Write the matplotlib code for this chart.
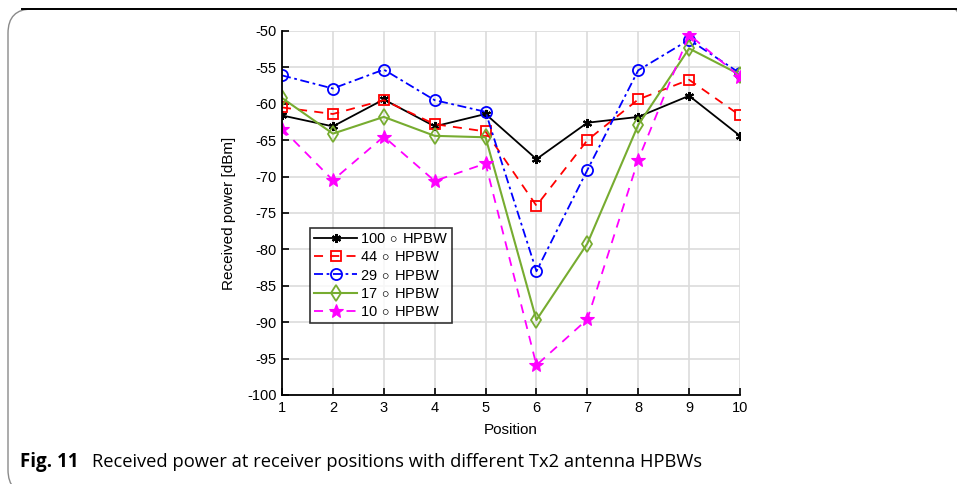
import matplotlib
matplotlib.use("Agg")
import matplotlib.pyplot as plt
from matplotlib.patches import FancyBboxPatch
from matplotlib.lines import Line2D

positions = [1, 2, 3, 4, 5, 6, 7, 8, 9, 10]
hpbw_100 = [-61.6, -63.1, -59.4, -63.1, -61.4, -67.6, -62.6, -61.8, -58.9, -64.4]
hpbw_44 = [-60.5, -61.4, -59.5, -62.8, -63.8, -74.0, -65.0, -59.4, -56.7, -61.6]
hpbw_29 = [-56.1, -57.9, -55.3, -59.5, -61.1, -83.0, -69.1, -55.4, -51.2, -55.8]
hpbw_17 = [-59.2, -64.1, -61.8, -64.4, -64.6, -89.7, -79.2, -62.9, -52.4, -56.0]
hpbw_10 = [-63.4, -70.5, -64.5, -70.6, -68.2, -95.9, -89.6, -67.7, -50.5, -56.3]
labels = ["100$\\,\\circ\\,$HPBW", "44$\\,\\circ\\,$HPBW", "29$\\,\\circ\\,$HPBW",
          "17$\\,\\circ\\,$HPBW", "10$\\,\\circ\\,$HPBW"]
yticks = list(range(-100, -45, 5))

plt.rcParams['font.family'] = ['Liberation Sans', 'DejaVu Sans']
plt.rcParams['mathtext.fontset'] = 'custom'
plt.rcParams['mathtext.rm'] = 'Liberation Sans'
plt.rcParams['axes.unicode_minus'] = False

fig = plt.figure(figsize=(9.57, 4.84), dpi=100)
ax = fig.add_axes([282 / 957, 1 - 395 / 484, (740 - 282) / 957, (395 - 31) / 484])

ax.plot(positions, hpbw_100, color='black', linestyle='-', lw=1.3,
        marker=(6, 2, 0), markersize=6.5, markeredgewidth=1.5, label=labels[0])
ax.plot(positions, hpbw_44, color='#ff0000', linestyle=(0, (5, 4)), lw=1.3,
        marker='s', markersize=7, markerfacecolor='none', markeredgewidth=1.3, label=labels[1])
ax.plot(positions, hpbw_29, color='#0000ff', linestyle=(0, (5, 2, 1.5, 2)), lw=1.3,
        marker='o', markersize=8, markerfacecolor='none', markeredgewidth=1.3, label=labels[2])
ax.plot(positions, hpbw_17, color='#77ac30', linestyle='-', lw=1.5,
        marker='d', markersize=8, markerfacecolor='none', markeredgewidth=1.3, label=labels[3])
ax.plot(positions, hpbw_10, color='#ff00ff', linestyle=(0, (5, 4)), lw=1.3,
        marker='*', markersize=10.5, markeredgewidth=0.8, label=labels[4])

ax.set_xlim(1, 10)
ax.set_ylim(-100, -50)
ax.set_xticks(positions)
ax.set_yticks(yticks)
ax.grid(True, color='#dcdcdc', linewidth=1.2)
ax.set_axisbelow(True)
for side in ('top', 'right'):
    ax.spines[side].set_visible(False)
for side in ('left', 'bottom'):
    ax.spines[side].set_linewidth(1.3)
ax.tick_params(direction='in', length=5, width=1.2, labelsize=10.5, pad=4)
ax.set_xlabel("Position", fontsize=11, labelpad=6)
ax.set_ylabel("Received power [dBm]", fontsize=11, labelpad=8)

leg = ax.legend(loc='upper left', bbox_to_anchor=((310 - 282) / 458, (395 - 228) / 364),
                fontsize=10.5, frameon=True, fancybox=False, edgecolor='black',
                handlelength=2.9, handletextpad=0.2, borderpad=0.3, labelspacing=0.28,
                borderaxespad=0, numpoints=1)
leg.get_frame().set_linewidth(1.2)

# Page frame with rounded corner
frame = FancyBboxPatch((8 / 957, -10 / 484), 970 / 957, (484 - 9 + 10) / 484,
                       boxstyle="round,pad=0,rounding_size=0.025",
                       transform=fig.transFigure, facecolor='none',
                       edgecolor='#8a8a8a', linewidth=1.0, mutation_aspect=2.0)
fig.patches.append(frame)
fig.lines.append(Line2D([22 / 957, 1], [1 - 9 / 484, 1 - 9 / 484],
                        transform=fig.transFigure, color='black', linewidth=1.4))

fig.text(20 / 957, 1 - 462 / 484, "Fig. 11", fontsize=13.5, fontweight='bold',
         family=['Open Sans', 'DejaVu Sans'], va='center', ha='left')
fig.text(92 / 957, 1 - 462 / 484,
         "Received power at receiver positions with different Tx2 antenna HPBWs",
         fontsize=13.2, family=['Open Sans', 'DejaVu Sans'], va='center', ha='left')

fig.savefig("out.png", dpi=100)
